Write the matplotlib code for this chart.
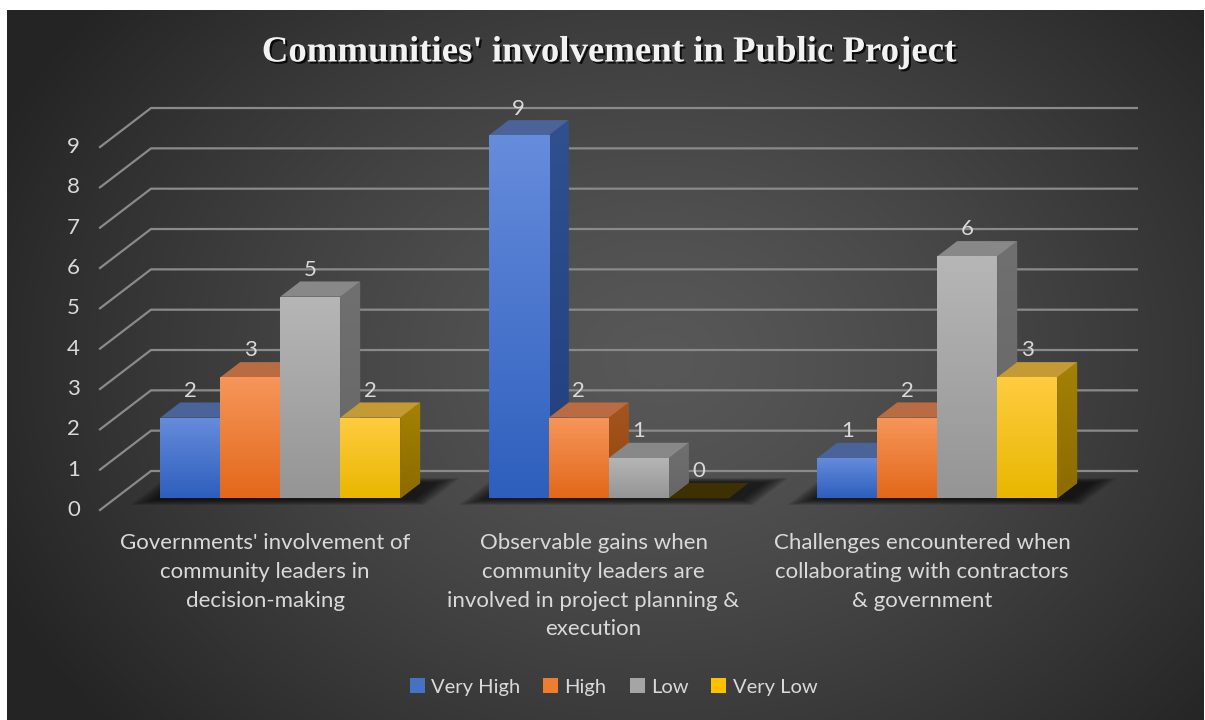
import numpy as np
import matplotlib.pyplot as plt
from matplotlib.patches import Polygon
from matplotlib import patheffects
from matplotlib.colors import to_rgb

categories = [
    "Governments' involvement of\ncommunity leaders in\ndecision-making",
    "Observable gains when\ncommunity leaders are\ninvolved in project planning &\nexecution",
    "Challenges encountered when\ncollaborating with contractors\n& government",
]
series = ["Very High", "High", "Low", "Very Low"]
very_high = [2, 9, 1]
high = [3, 2, 2]
low = [5, 1, 6]
very_low = [2, 0, 3]
values = [very_high, high, low, very_low]
yticks = list(range(0, 10))

# colours: legend/mid, front top, front bottom, top face, side top, side bottom
mid_col = ["#4472c4", "#ed7d31", "#a5a5a5", "#ffc000"]
front_top = ["#668cdc", "#f6965a", "#b6b6b6", "#ffcc40"]
front_bot = ["#2e5fbd", "#e3681a", "#959595", "#e8b700"]
top_face = ["#4a6399", "#b96b41", "#888888", "#c39a34"]
side_top = ["#30508f", "#a5551f", "#707070", "#a58104"]
side_bot = ["#213f7b", "#934610", "#666666", "#8c6b00"]

# oblique projection (depth offsets in data units)
DX = 51 / 328.5
DV = 39 / 40.33
D0, D1 = 0.30, 0.69
W = 60 / 328.5

def px2x(px):
    return (px - 265) / 328.5

def px2y(py):
    return (510 - py) / 40.33

def proj(x, v, d):
    return (x + d * DX, v + d * DV)

def vgrad(c_top, c_bot):
    c1 = np.array(to_rgb(c_top))
    c2 = np.array(to_rgb(c_bot))
    t = np.linspace(0, 1, 64)[:, None]
    return (c1 * (1 - t) + c2 * t)[:, None, :]

fig = plt.figure(figsize=(12.05, 7.2), dpi=100, facecolor="white")
ax = fig.add_axes([0, 0, 1, 1])
ax.set_axis_off()

# background radial gradient
gx = np.linspace(7, 1203, 400)
gy = np.linspace(10, 720, 240)
XX, YY = np.meshgrid(gx, gy)
r = np.sqrt(((XX - 660) / 720) ** 2 + ((YY - 360) / 560) ** 2)
r = np.clip(r, 0, 1)
lum = 0.345 - (0.345 - 0.145) * r ** 1.3
bg = np.dstack([lum, lum, lum])
ax.imshow(bg, extent=(px2x(7), px2x(1203), px2y(720), px2y(10)),
          aspect="auto", zorder=0, interpolation="bilinear")

# gridlines: diagonal on side + horizontal on back wall
x_left, x_right = -0.5023, 2.499
for v in yticks:
    a = proj(x_left, v, 0)
    b = proj(x_left, v, 1)
    c = proj(x_right, v, 1)
    ax.plot([a[0], b[0], c[0]], [a[1], b[1], c[1]], color="#8a8a8a", lw=1.6,
            zorder=1, solid_joinstyle="miter")
    ax.text(px2x(80), v, str(v), ha="right", va="center", fontsize=16,
            color="#d9d9d9", family="Lato")

n = len(series)
# soft shadows on the floor
for i in range(len(categories)):
    gl = i - n * W / 2
    gr = i + n * W / 2
    for k in range(12):
        e = k * 0.005
        da, db = D0 - 0.04 - k * 0.012, D1 + 0.02 + k * 0.01
        x0, x1 = gl - e - 0.01, gr + DX * 0.3 + e
        pts = [proj(x0, 0, da), proj(x1, 0, da), proj(x1, 0, db), proj(x0, 0, db)]
        ax.add_patch(Polygon(pts, closed=True, facecolor="black", edgecolor="none",
                             alpha=0.07, zorder=2))

# bars
for j in range(n):
    xs = [i - n * W / 2 + j * W + D0 * DX for i in range(len(categories))]
    z = 3 + j
    bars = ax.bar(xs, values[j], width=W, bottom=D0 * DV, align="edge",
                  color=mid_col[j], edgecolor="none", zorder=z + 0.5,
                  label=series[j])
    for i, (bar, v) in enumerate(zip(bars, values[j])):
        xl = i - n * W / 2 + j * W
        xr = xl + W
        # side face
        side = [proj(xr, 0, D0), proj(xr, 0, D1), proj(xr, v, D1), proj(xr, v, D0)]
        if v > 0:
            sp = Polygon(side, closed=True, facecolor=side_top[j], edgecolor="none",
                         zorder=z + 0.2)
            ax.add_patch(sp)
            sx = [p[0] for p in side]
            sy = [p[1] for p in side]
            im = ax.imshow(vgrad(side_top[j], side_bot[j]),
                           extent=(min(sx), max(sx), min(sy), max(sy)),
                           aspect="auto", zorder=z + 0.2, interpolation="bilinear")
            im.set_clip_path(sp)
        # top face
        top = [proj(xl, v, D0), proj(xr, v, D0), proj(xr, v, D1), proj(xl, v, D1)]
        tcol = top_face[j] if v > 0 else "#3d3104"
        ax.add_patch(Polygon(top, closed=True, facecolor=tcol, edgecolor="none",
                             zorder=z + 0.3))
        # front gradient
        if v > 0:
            bx, by = bar.get_x(), bar.get_y()
            im = ax.imshow(vgrad(front_top[j], front_bot[j]),
                           extent=(bx, bx + bar.get_width(), by, by + bar.get_height()),
                           aspect="auto", zorder=z + 0.6, interpolation="bilinear")
            im.set_clip_path(bar)
        # data label
        lx = xl + W / 2 + D0 * DX
        ax.text(lx, v + D1 * DV + 0.04, str(v), ha="center", va="bottom",
                fontsize=16, color="#d9d9d9", family="Lato", zorder=20)

# category labels
for i, cat in enumerate(categories):
    ax.text(i, px2y(533), cat, ha="center", va="top", fontsize=16,
            color="#d9d9d9", family="Lato", linespacing=1.55, zorder=20)

ax.set_xlim(px2x(0), px2x(1205))
ax.set_ylim(px2y(720), px2y(0))

# title
fig.text(0.505, 1 - 52 / 720, "Communities' involvement in Public Project",
         ha="center", va="center", fontsize=26.5, fontweight="bold",
         family="Liberation Serif", color="#f2f2f2",
         path_effects=[patheffects.withSimplePatchShadow(offset=(1.5, -1.5),
                                                         shadow_rgbFace="black",
                                                         alpha=0.8)])

leg = fig.legend(loc="center", bbox_to_anchor=(0.509, 1 - 687 / 720), ncol=4,
                 frameon=False, handlelength=0.75, handleheight=0.75,
                 handletextpad=0.3, columnspacing=1.15, labelcolor="#d9d9d9",
                 prop={"family": "Lato", "size": 14.5})

fig.savefig("out.png", dpi=100, facecolor="white")
